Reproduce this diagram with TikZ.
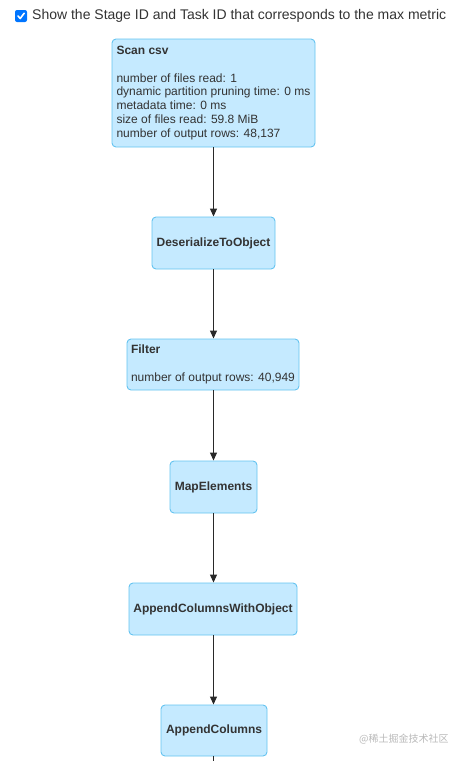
\documentclass[tikz,border=0pt]{standalone}
\usepackage{fontspec}
\setmainfont{Liberation Sans}
\newfontfamily\cjk{Noto Sans CJK SC}
\usetikzlibrary{arrows.meta}
\definecolor{boxfill}{RGB}{197,234,255}
\definecolor{boxline}{RGB}{100,195,240}
\definecolor{txt}{RGB}{51,51,51}
\definecolor{chk}{RGB}{0,117,255}
\definecolor{wm}{RGB}{185,185,185}
\tikzset{
  opbox/.style={draw=boxline, fill=boxfill, line width=0.9pt, rounded corners=4pt,
    text=txt, font=\fontsize{12}{13.75}\selectfont, inner sep=0pt, align=center},
  flow/.style={line width=1.1pt, draw=txt!80!black, -{Triangle[length=8pt,width=7pt]}},
}
\begin{document}
\begin{tikzpicture}[x=1pt,y=-1pt]
\useasboundingbox (0,0) rectangle (462,761);
% header
\node[fill=chk, rounded corners=2pt, minimum width=12pt, minimum height=12pt, inner sep=0pt] (cb) at (21,16) {};
\draw[white, line width=1.6pt, line cap=round, line join=round] ([shift={(-3,0)}]cb.center) -- ([shift={(-0.8,2.5)}]cb.center) -- ([shift={(3.2,-2.8)}]cb.center);
\node[anchor=west, text=txt, font=\fontsize{14}{16}\selectfont, inner sep=0pt] (hdr) at (32,15.5) {Show the Stage ID and Task ID that corresponds to the max metric};
% nodes
\node[opbox, minimum width=203pt, minimum height=108pt, align=left] (scan) at (213.5,93)
  {\textbf{Scan csv}\\[13.75pt]
   number of files read: 1\\
   dynamic partition pruning time: 0 ms\\
   metadata time: 0 ms\\
   size of files read: 59.8 MiB\\
   number of output rows: 48,137};
\node[opbox, minimum width=123pt, minimum height=52pt] (deser) at (213.5,243) {\textbf{DeserializeToObject}};
\node[opbox, minimum width=172pt, minimum height=51pt, align=left] (filter) at (213,364.5)
  {\textbf{Filter}\\[13.75pt]number of output rows: 40,949};
\node[opbox, minimum width=87pt, minimum height=52pt] (map) at (213.5,487) {\textbf{MapElements}};
\node[opbox, minimum width=168pt, minimum height=52pt] (acwo) at (213,609) {\textbf{AppendColumnsWithObject}};
\node[opbox, minimum width=106pt, minimum height=51pt] (ac) at (214,730.5) {\textbf{AppendColumns}};
\coordinate (end) at (213.5,761);
% connectors
\draw[flow] (scan.south) -- (deser.north);
\draw[flow] (deser.south) -- (filter.north -| deser.south);
\draw[flow] (filter.south -| deser.south) -- (map.north);
\draw[flow] (map.south) -- (acwo.north -| map.south);
\draw[flow] (acwo.south -| map.south) -- (ac.north -| map.south);
\draw[line width=1.1pt, draw=txt!80!black] (ac.south -| map.south) -- (end);
% watermark
\node[anchor=west, text=wm, font=\cjk\fontsize{10}{12}\selectfont, inner sep=0pt] (wmk) at (359,739) {@稀土掘金技术社区};
\end{tikzpicture}
\end{document}
